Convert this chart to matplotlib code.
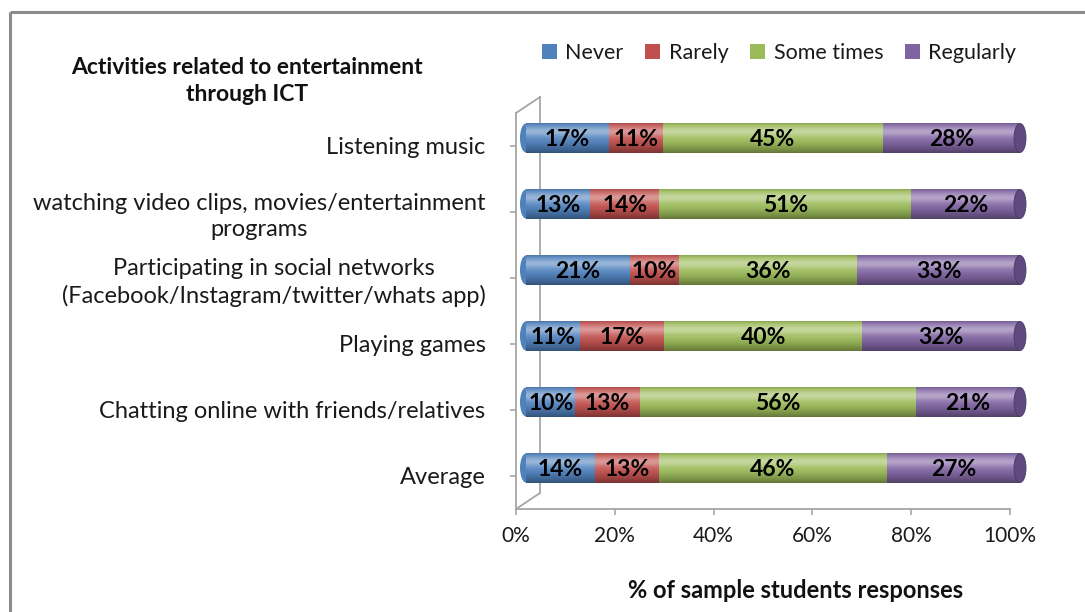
import numpy as np
import matplotlib
matplotlib.use("Agg")
import matplotlib.pyplot as plt
from matplotlib.patches import Patch, Ellipse
from matplotlib.transforms import ScaledTranslation

# ---------------- data ----------------
categories = [
    "Listening music",
    "watching video clips, movies/entertainment\nprograms",
    "Participating in social networks\n(Facebook/Instagram/twitter/whats app)",
    "Playing games",
    "Chatting online with friends/relatives",
    "Average",
]
series_names = ["Never", "Rarely", "Some times", "Regularly"]
never = [17, 13, 21, 11, 10, 14]
rarely = [11, 14, 10, 17, 13, 13]
some_times = [45, 51, 36, 40, 56, 46]
regularly = [28, 22, 33, 32, 21, 27]
x_ticks = [0, 0.2, 0.4, 0.6, 0.8, 1.0]
x_ticklabels = ["0%", "20%", "40%", "60%", "80%", "100%"]

colors = ["#4f81bd", "#c0504d", "#9bbb59", "#8064a2"]
cap_color = "#5e4a7e"

plt.rcParams['font.family'] = ['Lato', 'DejaVu Sans']

W, H = 1085, 612
DPI = 100
fig = plt.figure(figsize=(W / DPI, H / DPI), dpi=DPI)

# overlay axes in pixel coords for frame / 3-D wall decoration
deco = fig.add_axes([0, 0, 1, 1], zorder=0)
deco.set_xlim(0, W)
deco.set_ylim(H, 0)
deco.axis("off")
frame_c = "#8c8c8c"
deco.plot([10, W], [12, 12], color=frame_c, lw=2.2, solid_capstyle="butt")
deco.plot([10, 10], [12, H], color=frame_c, lw=2.2, solid_capstyle="butt")

ax_l, ax_r, ax_t, ax_b = 516, 1010, 113, 509
ax = fig.add_axes([ax_l / W, 1 - ax_b / H, (ax_r - ax_l) / W, (ax_b - ax_t) / H], zorder=1)
ax.patch.set_alpha(0)

# 3-D walls
wall_c = "#a6a6a6"
dx3, dy3 = 24, 16
deco.plot([ax_l, ax_l + dx3], [ax_t, ax_t - dy3], color=wall_c, lw=1.3)
deco.plot([ax_l + dx3, ax_l + dx3], [ax_t - dy3, ax_b - dy3], color=wall_c, lw=1.3)
deco.plot([ax_l, ax_l + dx3], [ax_b, ax_b - dy3], color=wall_c, lw=1.3)

off = ax.transData + ScaledTranslation(10 / DPI, 8 / DPI, fig.dpi_scale_trans)

data = np.array([never, rarely, some_times, regularly], dtype=float)
fracs = data / data.sum(axis=0)
bar_h = 0.44
cap_w = 12 / (ax_r - ax_l)

# gradient profiles (cylinder shading)
t = np.linspace(0, 1, 60)
hi_alpha = 0.32 * np.exp(-((t - 0.28) / 0.16) ** 2) + 0.10 * np.exp(-((t - 0.3) / 0.4) ** 2)
sh_alpha = 0.36 * np.clip((t - 0.5) / 0.5, 0, 1) ** 1.6 + 0.12 * np.exp(-(t / 0.05) ** 2)
hi_img = np.zeros((60, 1, 4)); hi_img[..., :3] = 1.0; hi_img[:, 0, 3] = hi_alpha
sh_img = np.zeros((60, 1, 4)); sh_img[:, 0, 3] = sh_alpha

for i in range(len(categories)):
    left = 0.0
    e = Ellipse((0, i), cap_w, bar_h, facecolor=colors[0], edgecolor="none", zorder=1.5)
    e.set_transform(off)
    e.set_clip_on(False)
    ax.add_patch(e)
    for s in range(4):
        w = fracs[s, i]
        ax.barh(i, w, left=left, height=bar_h, color=colors[s], transform=off,
                zorder=2, linewidth=0, clip_on=False)
        ax.text(left + w / 2, i + 0.02, f"{int(data[s, i])}%", ha="center", va="center",
                fontsize=16.5, fontweight="bold", color="black", transform=off, zorder=6,
                clip_on=False)
        left += w
    total = left
    for img in (hi_img, sh_img):
        im = ax.imshow(img, extent=(0, total, i + bar_h / 2, i - bar_h / 2),
                       origin="upper", aspect="auto", zorder=3, interpolation="bilinear")
        im.set_transform(off)
        im.set_clip_on(False)
    e2 = Ellipse((total, i), cap_w, bar_h, facecolor=cap_color, edgecolor="#4a3a66",
                 linewidth=0.6, zorder=4)
    e2.set_transform(off)
    e2.set_clip_on(False)
    ax.add_patch(e2)

ax.set_xlim(0, 1)
ax.set_ylim(len(categories) - 0.5, -0.5)
ax.set_aspect("auto")

ax.set_xticks(x_ticks)
ax.set_xticklabels(x_ticklabels, fontsize=15, color="#1a1a1a")
ax.set_yticks(range(len(categories)))
ax.set_yticklabels(categories, fontsize=17, color="#1a1a1a")
for lab in ax.get_yticklabels():
    lab.set_multialignment("center")
    lab.set_linespacing(1.3)
ax.tick_params(axis="x", direction="out", length=4, width=1.2, color=wall_c, pad=8)
ax.tick_params(axis="y", direction="out", length=4, width=1.2, color=wall_c, pad=18)
for sp in ["top", "right"]:
    ax.spines[sp].set_visible(False)
for sp in ["left", "bottom"]:
    ax.spines[sp].set_color(wall_c)
    ax.spines[sp].set_linewidth(1.3)

fig.text(796 / W, 1 - 591 / H, "% of sample students responses", ha="center", va="center",
         fontsize=17, fontweight="bold", color="#111111")
fig.text(247 / W, 1 - 81 / H, "Activities related to entertainment\nthrough ICT", ha="center",
         va="center", fontsize=16.5, fontweight="bold", color="#111111", linespacing=1.3)

handles = [Patch(facecolor=c, edgecolor="none") for c in colors]
fig.legend(handles, series_names, loc="center", bbox_to_anchor=(779 / W, 1 - 53 / H), ncol=4,
           frameon=False, fontsize=15.5, handlelength=0.7, handleheight=0.7,
           handletextpad=0.4, columnspacing=1.0, labelcolor="#1a1a1a")

fig.savefig("out.png", dpi=DPI)
